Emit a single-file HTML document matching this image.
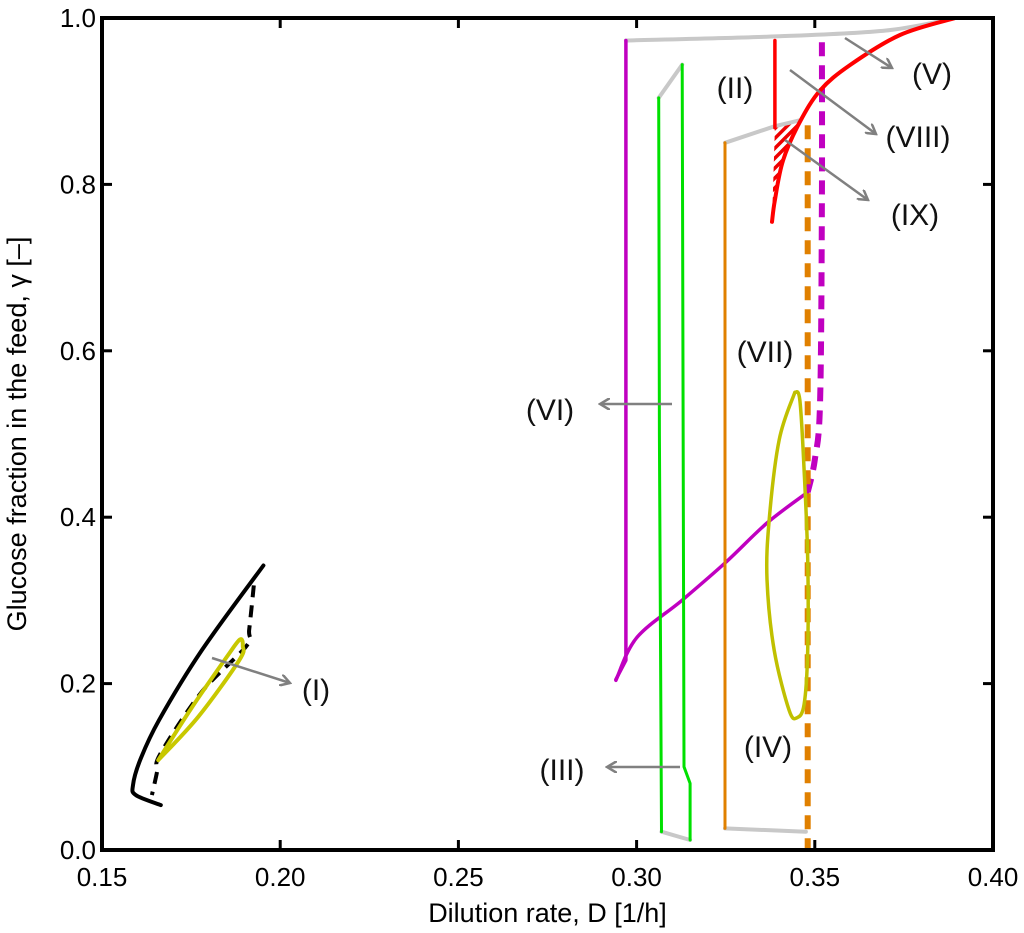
<!DOCTYPE html>
<html><head><meta charset="utf-8"><style>
body{margin:0;background:#fff;}
svg{display:block;font-family:"Liberation Sans",sans-serif;}
</style></head><body>
<svg id="chart" width="1024" height="933" viewBox="0 0 1024 933">
<defs>
<pattern id="hatch" patternUnits="userSpaceOnUse" width="7" height="7" patternTransform="rotate(45)">
<rect width="7" height="7" fill="#fff"/><rect width="3.5" height="7" fill="#e00"/></pattern>
<marker id="arr" markerWidth="12" markerHeight="12" refX="10" refY="6" orient="auto" markerUnits="userSpaceOnUse">
<path d="M0,0 L10,6 L0,12" fill="none" stroke="#808080" stroke-width="2.5"/></marker>
</defs>
<g id="plot"></g>
</svg>
<script>
const xTicks=[0.15,0.20,0.25,0.30,0.35,0.40];
const yTicks=[0.0,0.2,0.4,0.6,0.8,1.0];
const xTickLabels=["0.15","0.20","0.25","0.30","0.35","0.40"];
const yTickLabels=["0.0","0.2","0.4","0.6","0.8","1.0"];
const blackSolidD=[0.1953,0.178,0.166,0.1607,0.1587,0.1595,0.1665];
const blackSolidG=[0.342,0.240,0.156,0.108,0.078,0.066,0.054];
const blackDashD=[0.1926,0.1913,0.1905,0.178,0.1663,0.1655,0.164];
const blackDashG=[0.318,0.265,0.245,0.190,0.115,0.095,0.066];
const yellowSmallD=[0.1658,0.175,0.185,0.1887,0.1895,0.1885,0.177,0.1658];
const yellowSmallG=[0.108,0.17,0.232,0.253,0.245,0.228,0.16,0.108];
const magVertD=[0.2970,0.2970,0.2942];
const magVertG=[0.973,0.228,0.205];
const magCurveD=[0.2942,0.3000,0.3127,0.3248,0.3366,0.3480];
const magCurveG=[0.204,0.255,0.300,0.345,0.393,0.430];
const magDashD=[0.3480,0.350,0.3515,0.352,0.352];
const magDashG=[0.430,0.469,0.54,0.78,0.976];
const greenLD=[0.3062,0.3064,0.3070];
const greenLG=[0.904,0.5,0.022];
const greenRD=[0.3128,0.3133,0.3150,0.3150];
const greenRG=[0.944,0.1,0.08,0.012];
const orangeD=[0.3248,0.3248];
const orangeG=[0.850,0.026];
const orangeDashD=[0.348,0.348];
const orangeDashG=[0.871,0.0];
const redVertD=[0.3388,0.3388];
const redVertG=[0.973,0.868];
const redCurveD=[0.3894,0.3739,0.3599,0.3515,0.3458,0.3411,0.3388,0.3380];
const redCurveG=[1.0,0.9796,0.9435,0.913,0.875,0.829,0.781,0.755];
const grayTopD=[0.2970,0.340,0.370,0.3894];
const grayTopG=[0.973,0.978,0.985,1.0];
const yellowBigD=[0.3444,0.340,0.3372,0.3366,0.3386,0.3428,0.345,0.347,0.348,0.348,0.347,0.3458,0.3444];
const yellowBigG=[0.55,0.493,0.397,0.325,0.240,0.168,0.159,0.175,0.24,0.35,0.457,0.541,0.55];

const L=102,R=993,T=18,B=850;
const sx=d=>L+(d-0.15)/(0.25)*(R-L);
const sy=g=>B-g*(B-T);
const NS="http://www.w3.org/2000/svg";
const g=document.getElementById('plot');
function mk(tag,attrs){const e=document.createElementNS(NS,tag);for(const k in attrs)e.setAttribute(k,attrs[k]);g.appendChild(e);return e;}
function smooth(D,G,close,straight){
 const P=D.map((d,i)=>[sx(d),sy(G[i])]);
 let s='M'+P[0][0].toFixed(1)+','+P[0][1].toFixed(1);
 for(let i=0;i<P.length-1;i++){
  const p0=P[i-1]||P[i],p1=P[i],p2=P[i+1],p3=P[i+2]||p2;
  if(straight){s+=' L'+p2.map(v=>v.toFixed(1));continue;}
  const c1=[p1[0]+(p2[0]-p0[0])/6,p1[1]+(p2[1]-p0[1])/6];
  const c2=[p2[0]-(p3[0]-p1[0])/6,p2[1]-(p3[1]-p1[1])/6];
  s+=' C'+c1.map(v=>v.toFixed(1))+' '+c2.map(v=>v.toFixed(1))+' '+p2.map(v=>v.toFixed(1));
 }
 return s+(close?' Z':'');
}
function line(D,G,color,w,dash,name,straight){
 const e=mk('path',{d:smooth(D,G,false,straight),fill:'none',stroke:color,'stroke-width':w,'stroke-linejoin':'round','stroke-linecap':dash?'butt':'round'});
 if(dash)e.setAttribute('stroke-dasharray',dash);
 
 
 return e;}
// hatched region
const hatchD=[0.3388].concat(redCurveD.slice(4));
const hatchG=[0.868].concat(redCurveG.slice(4));
const h=mk('path',{d:smooth(hatchD,hatchG,true),fill:'url(#hatch)'});


// gray connectors
line(grayTopD,grayTopG,'#c8c8c8',4,null,'gray-connector-top');
line([greenLD[0],greenRD[0]],[greenLG[0],greenRG[0]],'#c8c8c8',4,null,'gray-connector-green-top',true);
line([greenLD[2],greenRD[3]],[greenLG[2],greenRG[3]],'#c8c8c8',4,null,'gray-connector-green-bottom',true);
line([orangeD[0],redVertD[0],0.3458],[orangeG[0],0.870,0.877],'#c8c8c8',4,null,'gray-connector-orange-top',true);
line([orangeD[1],orangeDashD[1]-0.0005],[orangeG[1],0.022],'#c8c8c8',4,null,'gray-connector-orange-bottom',true);
line(blackSolidD,blackSolidG,'#000',4,null,'black-solid-curve');
line(blackDashD,blackDashG,'#000',4,'12,8','black-dashed-curve');
line(yellowSmallD,yellowSmallG,'#c8c800',4,null,'yellow-small-loop');
line(magVertD,magVertG,'#c000c0',3.5,null,'magenta-vertical',true);
line(magCurveD,magCurveG,'#c000c0',3.5,null,'magenta-curve');
line(magDashD,magDashG,'#c000c0',6,'14,9','magenta-dashed');
line(greenLD,greenLG,'#00e000',3,null,'green-left',true);
line(greenRD,greenRG,'#00e000',3,null,'green-right',true);
line(orangeD,orangeG,'#e08000',3,null,'orange-solid',true);
line(orangeDashD,orangeDashG,'#e08000',6,'14,9','orange-dashed',true);
line(redVertD,redVertG,'#ff0000',3.5,null,'red-vertical',true);
line(redCurveD,redCurveG,'#ff0000',4,null,'red-curve');
line(yellowBigD,yellowBigG,'#c0c000',3.5,null,'yellow-big-loop');
// axes box
const box=mk('rect',{x:L,y:T,width:R-L,height:B-T,fill:'none',stroke:'#000','stroke-width':4});


xTicks.forEach((t,i)=>{
 const x=sx(t);
 mk('line',{x1:x,x2:x,y1:B,y2:B-10,stroke:'#000','stroke-width':3});
 mk('line',{x1:x,x2:x,y1:T,y2:T+10,stroke:'#000','stroke-width':3});
 const tx=mk('text',{x:x,y:B+36,'font-size':26,'text-anchor':'middle'});tx.textContent=xTickLabels[i];
 
 
});
yTicks.forEach((t,i)=>{
 const y=sy(t);
 mk('line',{x1:L,x2:L+10,y1:y,y2:y,stroke:'#000','stroke-width':3});
 mk('line',{x1:R,x2:R-10,y1:y,y2:y,stroke:'#000','stroke-width':3});
 const tx=mk('text',{x:L-6,y:y+9,'font-size':26,'text-anchor':'end'});tx.textContent=yTickLabels[i];
 
 
});
// annotations
const ann=[["(I)",316,700,212,658,290,683],["(II)",735,98],["(III)",562,780,680,767,607,767],["(IV)",768,757],
["(V)",932,84,845,38,892,68],["(VI)",550,420,672,404,600,404],["(VII)",765,362],["(VIII)",918,147,790,70,876,134],["(IX)",915,225,785,140,868,200]];
ann.forEach(a=>{
 if(a.length>3){const l=mk('line',{x1:a[3],y1:a[4],x2:a[5],y2:a[6],stroke:'#808080','stroke-width':2.5,'marker-end':'url(#arr)'});
  
  }
 const t=mk('text',{x:a[1],y:a[2],'font-size':30,'text-anchor':'middle',fill:'#111'});t.textContent=a[0];
 
 
});
const xt=mk('text',{x:(L+R)/2,y:922,'font-size':27,'text-anchor':'middle'});xt.textContent='Dilution rate, D [1/h]';


const yt=mk('text',{x:0,y:0,'font-size':27,'text-anchor':'middle',transform:'translate(26,434) rotate(-90)'});yt.textContent='Glucose fraction in the feed, γ [–]';


</script>
</body></html>
